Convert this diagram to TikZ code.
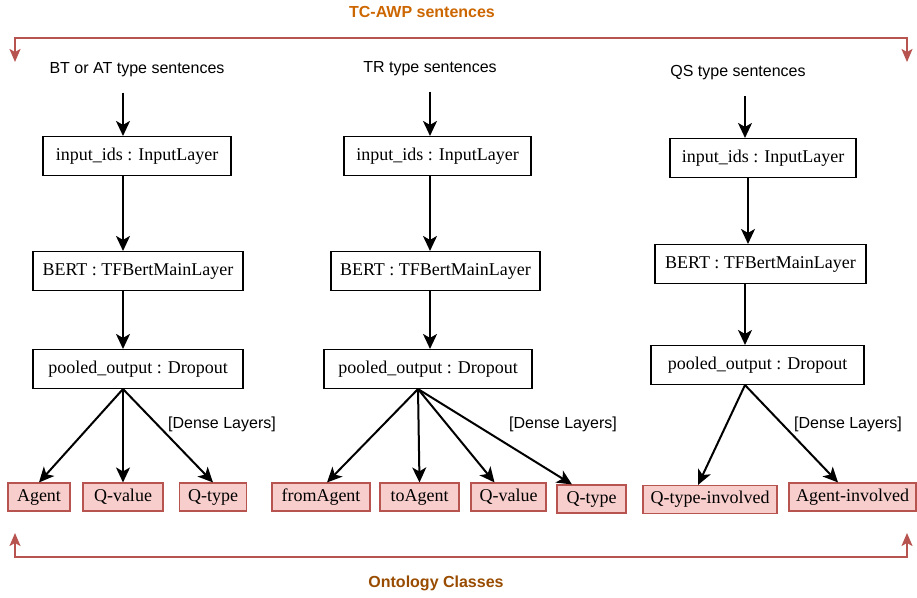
\documentclass[tikz,border=0pt]{standalone}
\usepackage{fontspec}
\setmainfont{Liberation Serif}
\setsansfont{Liberation Sans}
\usetikzlibrary{positioning,arrows.meta}
\definecolor{boxred}{HTML}{F8CECC}
\definecolor{linered}{HTML}{B85450}
\definecolor{titleorange}{HTML}{CC6600}
\definecolor{classbrown}{HTML}{994C00}
\tikzset{
	layer/.style={draw,line width=1.1pt,minimum height=39pt,inner sep=0pt,font=\fontsize{18}{20}\selectfont},
	cls/.style={draw=linered,fill=boxred,line width=1.1pt,minimum height=28pt,inner sep=0pt,font=\fontsize{18}{20}\selectfont},
	flow/.style={line width=2pt,-{Stealth[length=15pt,width=14pt,inset=4pt]}},
	brace/.style={linered,line width=2pt,{Stealth[length=13pt,width=11pt,inset=3pt]}-{Stealth[length=13pt,width=11pt,inset=3pt]}},
	lbl/.style={font=\sffamily\fontsize{16}{18}\selectfont},
	head/.style={font=\sffamily\bfseries\fontsize{16}{18}\selectfont}
}
\begin{document}
\begin{tikzpicture}[x=1pt,y=-1pt]
		\useasboundingbox (0,0) rectangle (917,597);
		\node[head,text=titleorange] (title) at (422,12) {TC-AWP sentences};
		\node[head,text=classbrown] (onto) at (436,583) {Ontology Classes};
		\coordinate (tl) at (15,62);
		\coordinate (tr) at (907,62);
		\coordinate (bl) at (15,533);
		\coordinate (br) at (907,533);
		\draw[brace] (tl) -- (15,38) -- (907,38) -- (tr);
		\draw[brace] (bl) -- (15,557) -- (907,557) -- (br);
		
		\node[lbl] (s1) at (137,70) {BT or AT type sentences};
		\node[layer,minimum width=188pt] (in1) at (137,156) {input\_ids : InputLayer};
		\node[layer,minimum width=210pt] (bert1) at (138,271) {BERT : TFBertMainLayer};
		\node[layer,minimum width=210pt] (pool1) at (138,369) {pooled\_output : Dropout};
		\node[cls,minimum width=62pt] (agent1) at (39,497) {Agent};
		\node[cls,minimum width=80pt] (qval1) at (123,497) {Q-value};
		\node[cls,minimum width=67pt] (qtype1) at (213,497) {Q-type};
		\node[lbl] (dense1) at (222,424) {[Dense Layers]};
		\draw[flow] ([xshift=-14pt,yshift=-12pt]s1.south) -- ([xshift=-14pt]in1.north);
		\draw[flow] ([xshift=-14pt]in1.south) -- ([xshift=-15pt]bert1.north);
		\draw[flow] ([xshift=-15pt]bert1.south) -- ([xshift=-15pt]pool1.north);
		\coordinate (f1) at ([xshift=-15pt]pool1.south);
		\foreach \t in {agent1,qval1,qtype1}
			\draw[flow] (f1) -- (\t.north);
		
		\node[lbl] (s2) at (430,69) {TR type sentences};
		\node[layer,minimum width=187pt] (in2) at (437.5,156) {input\_ids : InputLayer};
		\node[layer,minimum width=209pt] (bert2) at (435.5,271) {BERT : TFBertMainLayer};
		\node[layer,minimum width=208pt] (pool2) at (428,369) {pooled\_output : Dropout};
		\node[cls,minimum width=98pt] (from2) at (321,497) {fromAgent};
		\node[cls,minimum width=79pt] (to2) at (419.5,497) {toAgent};
		\node[cls,minimum width=75pt] (qval2) at (508.5,497) {Q-value};
		\node[cls,minimum width=69pt] (qtype2) at (591.5,499) {Q-type};
		\node[lbl] (dense2) at (563,424) {[Dense Layers]};
		\draw[flow] ([yshift=-12pt]s2.south) -- ([xshift=-7.5pt]in2.north);
		\draw[flow] ([xshift=-7.5pt]in2.south) -- ([xshift=-5.5pt]bert2.north);
		\draw[flow] ([xshift=-5.5pt]bert2.south) -- ([xshift=2pt]pool2.north);
		\coordinate (f2) at ([xshift=-10pt]pool2.south);
		\draw[flow] (f2) -- ([xshift=6pt]from2.north);
		\draw[flow] (f2) -- (to2.north);
		\draw[flow] (f2) -- ([xshift=-14pt]qval2.north);
		\draw[flow] (f2) -- ([xshift=-19.5pt]qtype2.north);
		
		\node[lbl] (s3) at (738,73) {QS type sentences};
		\node[layer,minimum width=186pt] (in3) at (763,158) {input\_ids : InputLayer};
		\node[layer,minimum width=211pt] (bert3) at (760.5,264) {BERT : TFBertMainLayer};
		\node[layer,minimum width=213pt] (pool3) at (757.5,365) {pooled\_output : Dropout};
		\node[cls,minimum width=134pt] (qtinv3) at (710,499.5) {Q-type-involved};
		\node[cls,minimum width=127pt] (aginv3) at (852.5,497) {Agent-involved};
		\node[lbl] (dense3) at (848,424) {[Dense Layers]};
		\draw[flow] ([xshift=7pt,yshift=-12pt]s3.south) -- ([xshift=-18pt]in3.north);
		\draw[flow] ([xshift=-15pt]in3.south) -- ([xshift=-12.5pt]bert3.north);
		\draw[flow] ([xshift=-15.5pt]bert3.south) -- ([xshift=-12.5pt]pool3.north);
		\coordinate (f3) at ([xshift=-12.5pt]pool3.south);
		\draw[flow] (f3) -- ([xshift=-12pt]qtinv3.north);
		\draw[flow] (f3) -- ([xshift=-14.5pt]aginv3.north);
	\end{tikzpicture}
\end{document}
